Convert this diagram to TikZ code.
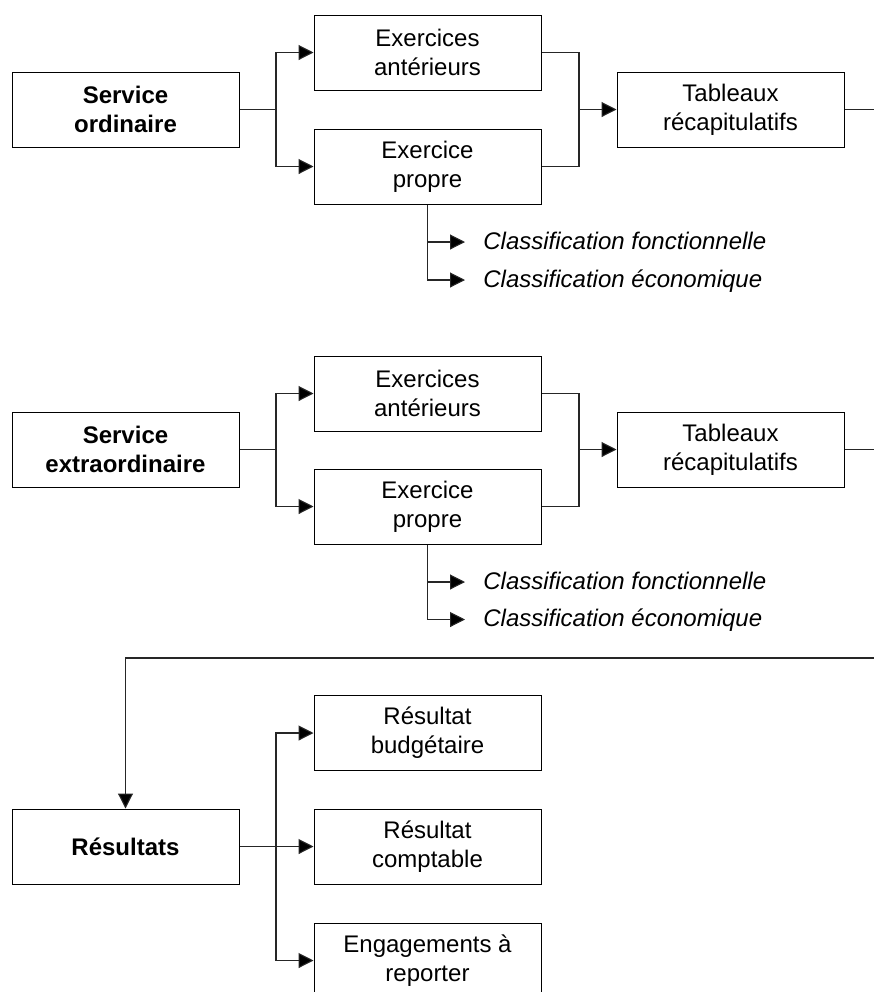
\documentclass[tikz,border=0pt]{standalone}
\usepackage{fontspec}
\setmainfont{Liberation Sans}
\usetikzlibrary{arrows.meta}
\begin{document}
\begin{tikzpicture}[x=0.5pt,y=-0.5pt,
  txt/.style={font=\fontsize{12}{14.5}\selectfont},
  box/.style={txt,draw=black,line width=0.5pt,minimum width=113.5pt,
    minimum height=37.5pt,inner sep=0pt,align=center},
  keybox/.style={box,font=\fontsize{12}{14.5}\selectfont\bfseries},
  link/.style={draw=black!85,line width=0.55pt},
  arrow/.style={link,-{Triangle[length=7.5pt,width=7.5pt,fill=black]}},
  cls/.style={anchor=west,inner xsep=9pt,inner ysep=0pt,
    font=\fontsize{12}{14.5}\selectfont\itshape,
    text height=0.716em,text depth=0pt}]
\useasboundingbox (0,0) rectangle (874,992);
\clip (0,0) rectangle (874,992);

% ---- service ordinaire ----
\node[keybox] (so) at (125.5,109.5) {Service\\ordinaire};
\node[box] (ea1) at (427.5,52.5) {Exercices\\antérieurs};
\node[box] (ep1) at (427.5,166.5) {Exercice\\propre};
\node[box] (tr1) at (730.5,109.5) {Tableaux\\récapitulatifs};
\node[cls] (cf1) at (465,242) {Classification fonctionnelle};
\node[cls] (ce1) at (465,280) {Classification économique};

\coordinate (b1) at (276,109.5);
\coordinate (m1) at (579,109.5);
\coordinate (out1) at (874,109.5);
\draw[link] (so.east) -- (b1);
\draw[arrow] (b1) |- (ea1.west);
\draw[arrow] (b1) |- (ep1.west);
\draw[link] (ea1.east) -| (m1);
\draw[link] (ep1.east) -| (m1);
\draw[arrow] (m1) -- (tr1.west);
\draw[link] (tr1.east) -- (out1);
\draw[arrow] (ep1.south) |- (cf1.west);
\draw[arrow] (ep1.south) |- (ce1.west);

% ---- service extraordinaire ----
\node[keybox] (sx) at (125.5,449.5) {Service\\extraordinaire};
\node[box] (ea2) at (427.5,393.5) {Exercices\\antérieurs};
\node[box] (ep2) at (427.5,506.5) {Exercice\\propre};
\node[box] (tr2) at (730.5,449.5) {Tableaux\\récapitulatifs};
\node[cls] (cf2) at (465,582) {Classification fonctionnelle};
\node[cls] (ce2) at (465,619.5) {Classification économique};

\coordinate (b2) at (276,449.5);
\coordinate (m2) at (579,449.5);
\coordinate (out2) at (874,449.5);
\draw[link] (sx.east) -- (b2);
\draw[arrow] (b2) |- (ea2.west);
\draw[arrow] (b2) |- (ep2.west);
\draw[link] (ea2.east) -| (m2);
\draw[link] (ep2.east) -| (m2);
\draw[arrow] (m2) -- (tr2.west);
\draw[link] (tr2.east) -- (out2);
\draw[arrow] (ep2.south) |- (cf2.west);
\draw[arrow] (ep2.south) |- (ce2.west);

% ---- résultats ----
\node[keybox] (res) at (125.5,846.5) {Résultats};
\node[box] (rb) at (427.5,733) {Résultat\\budgétaire};
\node[box] (rc) at (427.5,846.5) {Résultat\\comptable};
\node[box] (re) at (427.5,960.5) {Engagements à\\reporter};

\coordinate (in3) at (874,658);
\coordinate (b3) at (276,846.5);
\draw[arrow] (in3) -| (res.north);
\draw[link] (res.east) -- (b3);
\draw[arrow] (b3) |- (rb.west);
\draw[arrow] (b3) -- (rc.west);
\draw[arrow] (b3) |- (re.west);
\end{tikzpicture}
\end{document}
